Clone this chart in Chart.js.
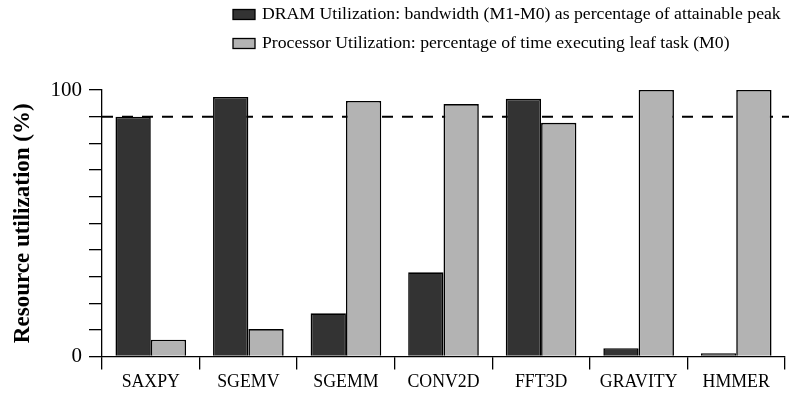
<!DOCTYPE html>
<html>
<head>
<meta charset="utf-8">
<script src="https://cdn.jsdelivr.net/npm/chart.js@4/dist/chart.umd.min.js"></script>
<style>
  html, body { margin: 0; padding: 0; background: #ffffff; }
  #wrap { width: 789px; height: 395px; position: relative; }
</style>
</head>
<body>
<div id="wrap"><canvas id="chart" width="789" height="395"></canvas></div>
<script>
// Benchmarks on the x axis
const categories = ['SAXPY', 'SGEMV', 'SGEMM', 'CONV2D', 'FFT3D', 'GRAVITY', 'HMMER'];

// DRAM bandwidth (M1-M0) as % of attainable peak
const dramUtil = [90, 97.4, 16.2, 31.6, 96.7, 3.1, 1.2];
// Processor time executing leaf task (M0), %
const procUtil = [6.3, 10.3, 95.9, 94.7, 87.7, 100, 100];

const seriesLabels = [
  'DRAM Utilization: bandwidth (M1-M0) as percentage of attainable peak',
  'Processor Utilization: percentage of time executing leaf task (M0)'
];
const yTickLabels = { 0: '0', 100: '100' };
const referenceLevel = 90;

const SERIF = '"Liberation Serif", "Times New Roman", serif';

// Horizontal dashed reference line, drawn behind the bars
const refLine = {
  id: 'refLine',
  beforeDatasetsDraw(chart) {
    const { ctx, chartArea } = chart;
    const y = chart.scales.y.getPixelForValue(referenceLevel);
    ctx.save();
    ctx.strokeStyle = '#000';
    ctx.lineWidth = 2;
    ctx.setLineDash([11, 9]);
    ctx.beginPath();
    ctx.moveTo(chartArea.left, y);
    ctx.lineTo(chartArea.right + 4, y);
    ctx.stroke();
    ctx.restore();
  }
};

// Left-aligned two-row legend above the plot
const stackedLegend = {
  id: 'stackedLegend',
  afterDraw(chart) {
    const { ctx } = chart;
    const x0 = 233, rowY = [14.5, 43.5];
    ctx.save();
    ctx.font = '17.7px ' + SERIF;
    ctx.textBaseline = 'middle';
    chart.data.datasets.forEach((ds, i) => {
      const y = rowY[i];
      ctx.fillStyle = ds.backgroundColor;
      ctx.fillRect(x0, y - 5, 22, 10);
      ctx.strokeStyle = '#000';
      ctx.lineWidth = 1.3;
      ctx.strokeRect(x0, y - 5, 22, 10);
      ctx.fillStyle = '#000';
      ctx.fillText(ds.label, x0 + 29, y);
    });
    ctx.restore();
  }
};

new Chart(document.getElementById('chart'), {
  type: 'bar',
  data: {
    labels: categories,
    datasets: [
      {
        label: seriesLabels[0],
        data: dramUtil,
        backgroundColor: '#333333',
        borderColor: '#000000',
        borderWidth: 1.6
      },
      {
        label: seriesLabels[1],
        data: procUtil,
        backgroundColor: '#b3b3b3',
        borderColor: '#000000',
        borderWidth: 1.6
      }
    ]
  },
  options: {
    responsive: false,
    animation: false,
    devicePixelRatio: 1,
    categoryPercentage: 0.724,
    barPercentage: 1.0,
    layout: { padding: { top: 90, right: 4, bottom: 0, left: 0 } },
    plugins: {
      legend: { display: false },
      tooltip: { enabled: false }
    },
    scales: {
      x: {
        grid: {
          offset: true,
          drawOnChartArea: false,
          drawTicks: true,
          tickLength: 13,
          color: '#000',
          lineWidth: 1.3
        },
        border: { color: '#000', width: 1.3 },
        ticks: {
          color: '#000',
          font: { family: SERIF, size: 17.8 },
          padding: 2,
          maxRotation: 0,
          autoSkip: false
        },
        afterFit(scale) { scale.height = 38.5; }
      },
      y: {
        min: 0,
        max: 100,
        grid: {
          drawOnChartArea: false,
          drawTicks: true,
          tickLength: 13,
          color: '#000',
          lineWidth: 1.3
        },
        border: { color: '#000', width: 1.3 },
        ticks: {
          stepSize: 10,
          maxTicksLimit: 11,
          autoSkip: false,
          color: '#000',
          font: { family: SERIF, size: 21, lineHeight: 1.0 },
          padding: 7,
          callback: (v) => (yTickLabels[v] !== undefined ? yTickLabels[v] : '')
        },
        title: {
          display: true,
          text: 'Resource utilization (%)',
          color: '#000',
          font: { family: SERIF, size: 23, weight: 'bold' },
          padding: { top: 9, bottom: 0 }
        },
        afterFit(scale) { scale.width = 102; }
      }
    }
  },
  plugins: [refLine, stackedLegend]
});
</script>
</body>
</html>
